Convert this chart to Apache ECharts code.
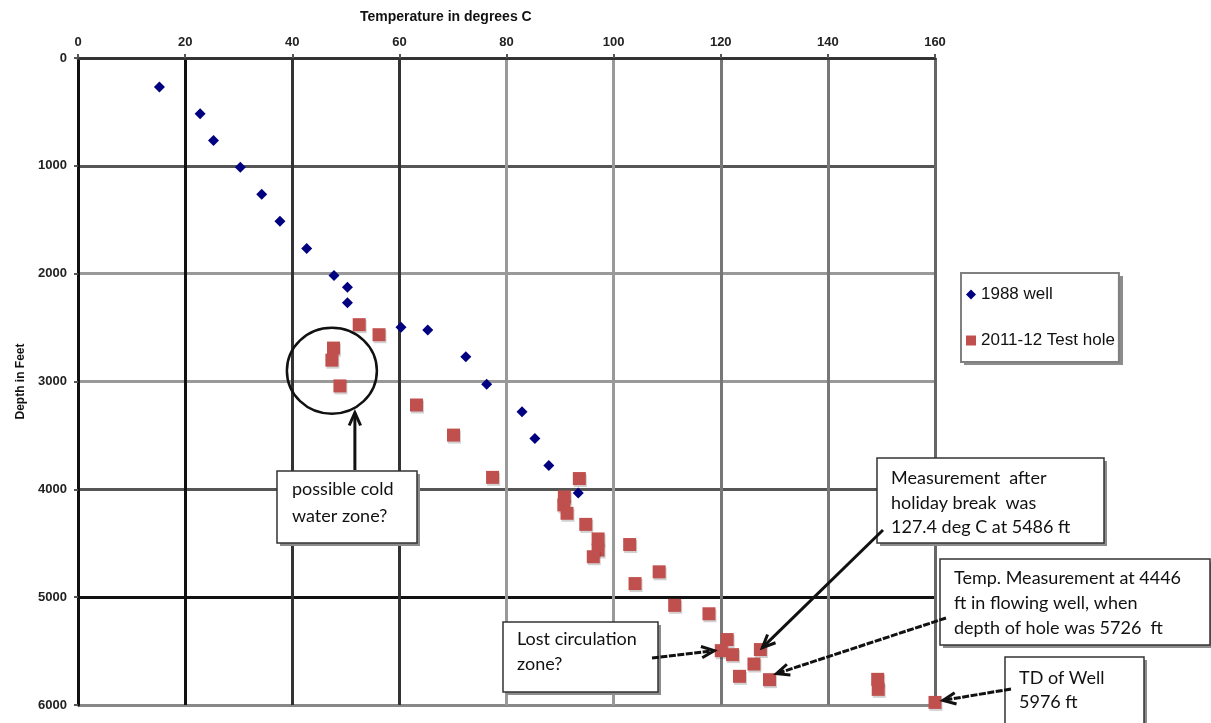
<!DOCTYPE html>
<html>
<head>
<meta charset="utf-8">
<script src="https://cdn.jsdelivr.net/npm/echarts@6/dist/echarts.min.js"></script>
<style>
  html, body { margin: 0; padding: 0; background: #fff; }
  #main { width: 1211px; height: 723px; }
</style>
</head>
<body>
<div id="main"></div>
<script>
// [temperature in degrees C, depth in feet]
var well1988 = [
  [15.2, 268], [22.8, 518], [25.3, 764], [30.3, 1012], [34.3, 1264], [37.7, 1515],
  [42.7, 1767], [47.8, 2016], [50.3, 2125], [50.3, 2270], [60.3, 2497], [65.3, 2522],
  [72.4, 2771], [76.3, 3025], [82.9, 3280], [85.3, 3529], [87.9, 3780], [93.4, 4035]
];
var testHole = [
  [52.5, 2473], [56.2, 2566], [47.7, 2690], [47.4, 2802], [48.9, 3041], [63.2, 3218],
  [70.1, 3497], [77.4, 3889], [93.6, 3900], [90.8, 4070], [90.7, 4144], [91.3, 4222],
  [94.8, 4325], [97.1, 4460], [97.1, 4563], [96.2, 4625], [103.0, 4512], [108.5, 4765],
  [104.0, 4874], [111.4, 5076], [117.8, 5154], [121.2, 5393], [120.1, 5496], [122.2, 5533],
  [127.4, 5486], [126.2, 5620], [123.5, 5734], [129.1, 5765], [149.3, 5762], [149.4, 5855],
  [160.0, 5976]
];
var tempTicks = [0, 160, 20];     // min, max, interval
var depthTicks = [0, 6000, 1000];

// the gridlines in the picture come out in different greys
var vLineColors = ['#111', '#111', '#333', '#333', '#999', '#999', '#777', '#777', '#666'];
var hLineColors = ['#333', '#555', '#999', '#999', '#555', '#111', '#888'];

var chart = echarts.init(document.getElementById('main'));

chart.setOption({
  animation: false,
  title: {
    text: 'Temperature in degrees C',
    left: 355, top: 5,
    textStyle: { fontFamily: 'Arial', fontSize: 14, fontWeight: 'bold', color: '#111' }
  },
  legend: {
    orient: 'vertical',
    left: 961, top: 273, z: 5,
    padding: [12, 4, 12, 5],
    itemGap: 27,
    itemWidth: 10, itemHeight: 10,
    backgroundColor: '#fff',
    borderColor: '#808080', borderWidth: 2,
    textStyle: { fontFamily: 'Arial', fontSize: 17, color: '#111', lineHeight: 19 },
    data: [
      { name: '1988 well', icon: 'diamond' },
      { name: '2011-12 Test hole', icon: 'rect' }
    ]
  },
  grid: { left: 78, top: 58, right: 276, bottom: 18 },
  xAxis: {
    type: 'value', position: 'top',
    min: tempTicks[0], max: tempTicks[1], interval: tempTicks[2],
    axisLine: { lineStyle: { color: '#333', width: 3 } },
    axisTick: { show: true, length: 4, lineStyle: { color: '#555', width: 2 } },
    axisLabel: { margin: 9, fontFamily: 'Arial', fontSize: 13, fontWeight: 'bold', color: '#222' },
    splitLine: { show: true, lineStyle: { color: vLineColors, width: 3 } }
  },
  yAxis: {
    type: 'value', inverse: true,
    min: depthTicks[0], max: depthTicks[1], interval: depthTicks[2],
    name: 'Depth in Feet', nameLocation: 'middle', nameGap: 50, nameRotate: 90,
    nameTextStyle: { fontFamily: 'Arial', fontSize: 12, fontWeight: 'bold', color: '#111' },
    axisLine: { lineStyle: { color: '#111', width: 3 } },
    axisTick: { show: true, length: 4, lineStyle: { color: '#555', width: 2 } },
    axisLabel: { margin: 11, fontFamily: 'Arial', fontSize: 13, fontWeight: 'bold', color: '#222',
                 formatter: function (v) { return String(v); } },
    splitLine: { show: true, lineStyle: { color: hLineColors, width: 3 } }
  },
  series: [
    {
      name: '1988 well', type: 'scatter', z: 4,
      symbol: 'diamond', symbolSize: 11,
      itemStyle: { color: '#000080', opacity: 1 },
      data: well1988
    },
    {
      name: '2011-12 Test hole', type: 'scatter', z: 3,
      symbol: 'rect', symbolSize: 13,
      itemStyle: { color: '#C0504D', opacity: 1, shadowColor: 'rgba(0,0,0,0.18)', shadowOffsetX: 1, shadowOffsetY: 2 },
      data: testHole
    }
  ]
});

// annotations
function px(p) { return chart.convertToPixel({ gridIndex: 0 }, p); }

function arrow(from, to, dashed) {
  var a = Math.atan2(to[1] - from[1], to[0] - from[0]), h = 14, s = 0.42;
  var p1 = [to[0] - h * Math.cos(a - s), to[1] - h * Math.sin(a - s)];
  var p2 = [to[0] - h * Math.cos(a + s), to[1] - h * Math.sin(a + s)];
  return [
    { type: 'line', z: 20, shape: { x1: from[0], y1: from[1], x2: to[0], y2: to[1] },
      style: { stroke: '#111', lineWidth: 3, lineDash: dashed ? [7, 1.5] : null } },
    { type: 'polyline', z: 20, shape: { points: [p1, to, p2] },
      style: { stroke: '#111', lineWidth: 3, fill: null } }
  ];
}

function shadowRect(x, y, w, h, z) {
  return { type: 'rect', z: z, shape: { x: x + 3, y: y + 3, width: w, height: h },
           style: { fill: '#8c8c8c' } };
}

function box(x, y, w, h, lines, tx, cy, lh) {
  return [
    shadowRect(x, y, w, h, 14),
    { type: 'rect', z: 15, shape: { x: x, y: y, width: w, height: h },
      style: { fill: '#fff', stroke: '#333', lineWidth: 1.5 } },
    { type: 'text', z: 16, x: tx, y: cy,
      style: { text: lines.join('\n'), fontFamily: 'Lato', fontSize: 18, lineHeight: lh,
               fill: '#111', verticalAlign: 'middle', align: 'left' } }
  ];
}

var c = px([47.4, 2900]);
var tipLost = px([120.1, 5496]);
var tipHoliday = px([127.4, 5486]);
var tipTemp = px([129.1, 5765]);
var tipTD = px([160.0, 5976]);

var g = [shadowRect(961, 273, 159, 89, 1)];
g.push({ type: 'ellipse', z: 10, shape: { cx: c[0], cy: c[1], rx: 45, ry: 43 },
         style: { fill: null, stroke: '#111', lineWidth: 2.5 } });
g = g.concat(arrow([c[0] + 23, 470], [c[0] + 23, c[1] + 42], false));
g = g.concat(box(277, 471, 140, 72, ['possible cold', 'water zone?'], 292, 503, 27));
g = g.concat(box(503, 622, 155, 70, ['Lost circulation', 'zone?'], 517, 652, 25));
g = g.concat(box(877, 458, 227, 85, ['Measurement  after', 'holiday break  was', '127.4 deg C at 5486 ft'], 891, 503, 24.5));
g = g.concat(box(940, 559, 270, 86, ['Temp. Measurement at 4446', 'ft in flowing well, when', 'depth of hole was 5726  ft'], 954, 603, 24.7));
g = g.concat(box(1005, 657, 139, 70, ['TD of Well', '5976 ft'], 1019, 690, 24.4));
g = g.concat(arrow([652, 658], [tipLost[0] - 7, tipLost[1]], true));
g = g.concat(arrow([883, 530], [tipHoliday[0] + 2, tipHoliday[1] - 2], false));
g = g.concat(arrow([946, 618], [tipTemp[0] + 7, tipTemp[1] - 6], true));
g = g.concat(arrow([1011, 689], [tipTD[0] + 8, tipTD[1] - 2], true));

chart.setOption({ graphic: g });
</script>
</body>
</html>
